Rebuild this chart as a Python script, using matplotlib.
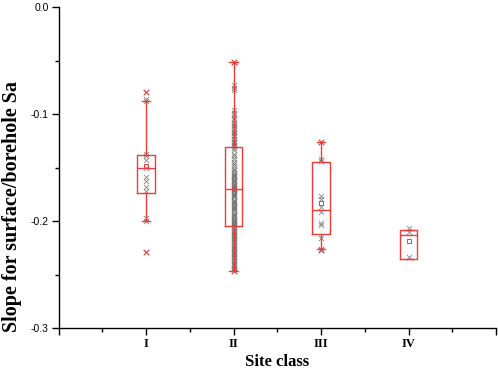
import matplotlib
matplotlib.use("Agg")
import matplotlib.pyplot as plt

# ---- data ----
classes = ["I", "II", "III", "IV"]
positions = [1, 2, 3, 4]

q1 = [-0.174, -0.205, -0.212, -0.2355]
median = [-0.150, -0.170, -0.190, -0.213]
q3 = [-0.138, -0.131, -0.145, -0.2085]
whisker_low = [-0.200, -0.247, -0.2265, -0.2355]
whisker_high = [-0.0875, -0.051, -0.1265, -0.2085]
means = [-0.149, -0.170, -0.183, -0.219]
minimum = [-0.229, -0.247, -0.227]
maximum = [-0.079, -0.051, -0.126]

points_I = [-0.079, -0.086, -0.088, -0.137, -0.139, -0.143, -0.150, -0.159,
            -0.163, -0.168, -0.172, -0.197, -0.200, -0.229]
points_II = [-0.051, -0.073, -0.076, -0.078, -0.096, -0.099, -0.101, -0.104,
             -0.106, -0.108, -0.110, -0.111, -0.113, -0.115, -0.117, -0.118,
             -0.120, -0.121, -0.123, -0.125, -0.126, -0.127, -0.129, -0.130,
             -0.132, -0.134, -0.137, -0.139, -0.142, -0.145, -0.147, -0.149,
             -0.151, -0.152, -0.154, -0.156, -0.157, -0.158, -0.159, -0.161,
             -0.162, -0.163, -0.164, -0.165, -0.166, -0.167, -0.168, -0.169,
             -0.170, -0.171, -0.172, -0.174, -0.175, -0.176, -0.177, -0.178,
             -0.180, -0.181, -0.182, -0.183, -0.184, -0.186, -0.187, -0.188,
             -0.189, -0.190, -0.192, -0.193, -0.194, -0.195, -0.196, -0.198,
             -0.199, -0.200, -0.201, -0.202, -0.203, -0.204, -0.205, -0.206,
             -0.207, -0.209, -0.210, -0.211, -0.212, -0.213, -0.214, -0.216,
             -0.217, -0.218, -0.219, -0.220, -0.222, -0.223, -0.224, -0.225,
             -0.226, -0.228, -0.229, -0.230, -0.231, -0.232, -0.234, -0.235,
             -0.236, -0.237, -0.239, -0.240, -0.241, -0.242, -0.244, -0.245,
             -0.247]
points_III = [-0.126, -0.142, -0.144, -0.177, -0.179, -0.187, -0.192, -0.202,
              -0.204, -0.216, -0.226, -0.227]
points_IV = [-0.207, -0.210, -0.234]
points = [points_I, points_II, points_III, points_IV]

yticks = [0.0, -0.1, -0.2, -0.3]
ytick_labels = ["0.0", "-0.1", "-0.2", "-0.3"]

# ---- figure ----
W, H = 498, 369
fig = plt.figure(figsize=(W / 100, H / 100), dpi=100)
ax = fig.add_axes([58.5 / W, (H - 328) / H, (496 - 58.5) / W, (328 - 7) / H])

red = "#f03a3a"
gray = "#6f6f6f"

stats = []
for i in range(len(classes)):
    stats.append(dict(q1=q1[i], med=median[i], q3=q3[i], whislo=whisker_low[i],
                      whishi=whisker_high[i], mean=means[i], fliers=[], label=classes[i]))

# data points
for pos, pts in zip(positions, points):
    ax.scatter([pos] * len(pts), pts, marker="x", s=14, color=gray,
               linewidths=0.6, zorder=3, alpha=0.85)

ax.bxp(stats, positions=positions, widths=0.2, capwidths=0.1,
       showmeans=True, showfliers=False, patch_artist=False,
       boxprops=dict(color=red, linewidth=1.0),
       whiskerprops=dict(color=red, linewidth=1.0),
       capprops=dict(color=red, linewidth=1.0),
       medianprops=dict(color=red, linewidth=1.0),
       meanprops=dict(marker="s", markersize=3.2, markerfacecolor="none",
                      markeredgecolor=red, markeredgewidth=0.7),
       manage_ticks=False)
for b in ax.lines:
    b.set_zorder(4)

# min / max markers
ax.scatter(positions[:3], minimum, marker="x", s=16, color=red, linewidths=0.7, zorder=5)
ax.scatter(positions[:3], maximum, marker="x", s=16, color=red, linewidths=0.7, zorder=5)

ax.set_xlim(0, 5)
ax.set_ylim(-0.3, 0.0)

ax.spines["top"].set_visible(False)
ax.spines["right"].set_visible(False)
for s in ("left", "bottom"):
    ax.spines[s].set_linewidth(1.0)
    ax.spines[s].set_color("black")

ax.set_xticks([0, 1, 2, 3, 4, 5])
ax.set_xticklabels(["", "I", "II", "III", "IV", ""], fontfamily="Liberation Serif",
                   fontweight="bold", fontsize=9)
ax.set_xticks([0.5, 1.5, 2.5, 3.5, 4.5], minor=True)
ax.set_yticks(yticks)
ax.set_yticklabels(ytick_labels, fontfamily="Liberation Sans", fontsize=7.5)
ax.set_yticks([-0.05, -0.15, -0.25], minor=True)
ax.tick_params(axis="both", which="major", direction="out", length=5, width=1.0, pad=2)
ax.tick_params(axis="both", which="minor", direction="out", length=3, width=1.0)

ax.set_xlabel("Site class", fontfamily="Liberation Serif", fontweight="bold",
              fontsize=12, labelpad=3)
ax.set_ylabel("Slope for surface/borehole Sa", fontfamily="Liberation Serif",
              fontweight="bold", fontsize=14.5)
ax.yaxis.set_label_coords(-0.084, 0.38)

fig.savefig("out.png", dpi=100)
